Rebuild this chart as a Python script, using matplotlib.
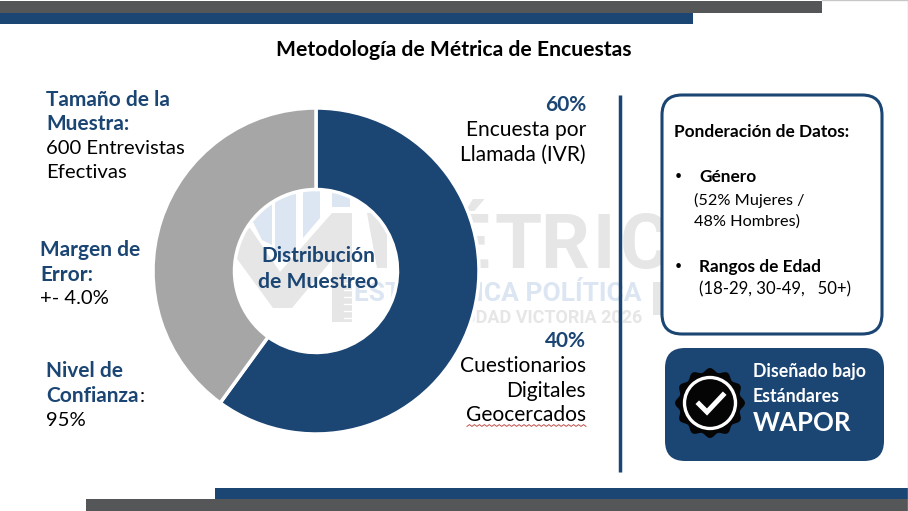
import numpy as np
import matplotlib
matplotlib.use('Agg')
import matplotlib.pyplot as plt
from matplotlib.patches import FancyBboxPatch, Polygon, Circle, Rectangle

plt.rcParams['font.family'] = ['Lato', 'DejaVu Sans']

W, H = 908, 511
NAVY = '#1b4573'
DARK = '#555658'
GRAY = '#a6a6a6'
WM_GRAY = '#e6e6e6'
WM_BLUE = '#dce6f2'

# datos
shares = [60, 40]
share_labels = ['60%', '40%']
share_names = ['Encuesta por\nLlamada (IVR)', 'Cuestionarios\nDigitales\nGeocercados']
share_colors = [NAVY, GRAY]

fig = plt.figure(figsize=(W / 100, H / 100), dpi=100)
ax = fig.add_axes([0, 0, 1, 1], zorder=1)
ax.set_xlim(0, W)
ax.set_ylim(H, 0)
ax.axis('off')

# marco y barras de arriba / abajo
ax.plot([822, 907.5, 907.5], [0.5, 0.5, 511], color='#c8c8c8', lw=1)
ax.add_patch(Rectangle((0, 1), 822, 12.5, color=DARK, lw=0))
ax.add_patch(Rectangle((0, 13.5), 693, 11, color=NAVY, lw=0))
ax.add_patch(Rectangle((215, 488), 693, 11, color=NAVY, lw=0))
ax.add_patch(Rectangle((86, 499), 822, 12, color=DARK, lw=0))

# marca de agua: logo
ax.add_patch(Polygon([(232, 232), (250, 228), (280, 272), (332, 213), (352, 213), (352, 322),
                      (332, 322), (332, 260), (292, 308), (273, 308), (232, 252)],
                     color=WM_GRAY, lw=0))
for y in range(276, 322, 7):
    ax.plot([344, 352], [y, y], color='white', lw=1)
for pts in [[(253, 185), (272, 185), (272, 245), (262, 240), (253, 222)],
            [(275, 185), (296, 185), (296, 248), (284, 262), (275, 250)],
            [(303, 185), (320, 185), (320, 218), (303, 238)],
            [(332, 185), (350, 185), (350, 207), (332, 207)]]:
    ax.add_patch(Polygon(pts, color=WM_BLUE, lw=0))

# marca de agua: texto
ax.add_patch(Polygon([(367, 213), (387, 213), (387, 268), (377, 268)], color=WM_GRAY, lw=0))
for letter, x, ha in [('É', 489, 'right'), ('T', 495, 'left'), ('R', 540, 'left'),
                      ('I', 593, 'left'), ('C', 620, 'left')]:
    ax.text(x, 268, letter, fontsize=55, fontweight='bold', family='Roboto', color=WM_GRAY,
            ha=ha, va='baseline')
ax.text(642, 301, 'ESTADÍSTICA POLÍTICA', fontsize=19, fontweight='bold', family='Roboto',
        color=WM_BLUE, ha='right', va='baseline')
ax.text(642, 323, 'CIUDAD VICTORIA 2026', fontsize=13, fontweight='bold', family='Roboto',
        color=WM_GRAY, ha='right', va='baseline')
ax.add_patch(Rectangle((653, 282), 12, 33, color=WM_GRAY, lw=0))

# dona
ax_pie = fig.add_axes([153 / W, 1 - 434 / H, 326 / W, 326 / H], zorder=2)
ax_pie.pie(shares, colors=share_colors, startangle=90, counterclock=False, radius=1,
           wedgeprops=dict(width=0.5, edgecolor='white', linewidth=2.5))
ax_pie.set_xlim(-1, 1)
ax_pie.set_ylim(-1, 1)
ax_pie.patch.set_alpha(0)

ax2 = fig.add_axes([0, 0, 1, 1], zorder=3)
ax2.set_xlim(0, W)
ax2.set_ylim(H, 0)
ax2.axis('off')
ax2.patch.set_alpha(0)

ax2.text(318, 256, 'Distribución', fontsize=15, fontweight='bold', color=NAVY, ha='center', va='center')
ax2.text(318, 282, 'de Muestreo', fontsize=15.2, fontweight='bold', color=NAVY, ha='center', va='center')

# titulo
ax2.text(453.5, 50, 'Metodología de Métrica de Encuestas', fontsize=15.2, fontweight='bold',
         color='black', ha='center', va='center')

# textos de la izquierda
ax2.text(46, 100, 'Tamaño de la', fontsize=15, fontweight='bold', color=NAVY, va='center')
ax2.text(46, 124, 'Muestra:', fontsize=15, fontweight='bold', color=NAVY, va='center')
ax2.text(46, 149, '600 Entrevistas', fontsize=14.6, color='black', va='center')
ax2.text(46, 173, 'Efectivas', fontsize=14.6, color='black', va='center')
ax2.text(40, 250, 'Margen de', fontsize=15, fontweight='bold', color=NAVY, va='center')
ax2.text(40, 275, 'Error:', fontsize=15, fontweight='bold', color=NAVY, va='center')
ax2.text(40, 299, '+- 4.0%', fontsize=14.6, color='black', va='center')
ax2.text(46, 371, 'Nivel de', fontsize=15, fontweight='bold', color=NAVY, va='center')
conf = ax2.text(46, 396, 'Confianza', fontsize=15, fontweight='bold', color=NAVY, va='center')
ax2.annotate(':', xy=(1, 0.5), xycoords=conf, xytext=(1, 0), textcoords='offset points',
             fontsize=14.6, color='black', va='center')
ax2.text(46, 420, '95%', fontsize=14.6, color='black', va='center')

# porcentajes de la derecha
ys = [[130, 155], [366, 391, 415]]
for lab, name, y_lab, y_lines in zip(share_labels, share_names, [105, 341], ys):
    ax2.text(586, y_lab, lab, fontsize=15, fontweight='bold', color=NAVY, ha='right', va='center')
    for line, y in zip(name.split('\n'), y_lines):
        ax2.text(586, y, line, fontsize=15.1, color='black', ha='right', va='center')
xs = np.linspace(467, 586, 49)
ax2.plot(xs, 425.5 + 0.9 * np.where(np.arange(49) % 2 == 0, 1, -1), color='#c0504d', lw=0.7)

# separador
ax2.plot([619.5, 619.5], [95, 472], color=NAVY, lw=2.5, solid_capstyle='butt')

# caja de ponderacion
ax2.add_patch(FancyBboxPatch((662, 95), 220, 239, boxstyle='round,pad=0,rounding_size=20',
                             fc='white', ec=NAVY, lw=2.2))
ax2.text(674, 132, 'Ponderación de Datos:', fontsize=12.4, fontweight='bold', color='black', va='center')
ax2.text(675, 176, '•', fontsize=9, color='black', va='center')
ax2.text(699, 177, 'Género', fontsize=12.4, fontweight='bold', color='black', va='center')
ax2.text(694, 200, '(52% Mujeres /', fontsize=11.7, color='black', va='center')
ax2.text(694, 222, '48% Hombres)', fontsize=11.7, color='black', va='center')
ax2.text(675, 266, '•', fontsize=9, color='black', va='center')
ax2.text(699, 267, 'Rangos de Edad', fontsize=12.4, fontweight='bold', color='black', va='center')
ax2.text(699, 289, '(18-29, 30-49,   50+)', fontsize=12.1, color='black', va='center')

# caja WAPOR
ax2.add_patch(FancyBboxPatch((665, 348), 219, 113, boxstyle='round,pad=0,rounding_size=20',
                             fc=NAVY, ec='none'))
ang = np.linspace(0, 2 * np.pi, 145)
r = 33 + 2 * np.cos(12 * ang)
ax2.add_patch(Polygon(np.c_[710 + r * np.cos(ang), 403 + r * np.sin(ang)], fc='#050505', ec='none'))
ax2.add_patch(Circle((710, 403), 25.5, fc='none', ec='white', lw=2.4))
ax2.plot([699, 707, 723], [404, 412, 395], color='white', lw=3.6, solid_joinstyle='miter')
ax2.text(753, 371, 'Diseñado bajo', fontsize=12.8, fontweight='bold', color='white', va='center')
ax2.text(753, 396, 'Estándares', fontsize=12.8, fontweight='bold', color='white', va='center')
ax2.text(753, 423, 'WAPOR', fontsize=18.5, fontweight='bold', color='white', va='center')

fig.savefig('out.png', dpi=100)
